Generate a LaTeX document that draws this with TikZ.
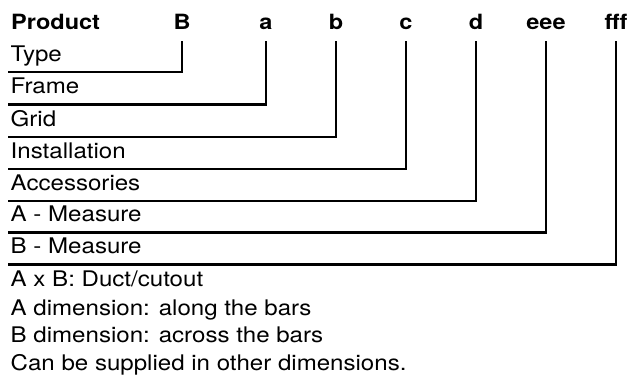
\documentclass[tikz,border=0pt]{standalone}
\usepackage{fontspec}
\setmainfont{TeX Gyre Heros}[FakeStretch=1.12]
\begin{document}
\begin{tikzpicture}[x=1pt,y=-1pt]
\tikzset{hd/.style={font=\fontsize{21}{24}\selectfont\bfseries, anchor=base, inner sep=0pt},
  row/.style={font=\fontsize{21.5}{24}\selectfont, anchor=south west, inner xsep=3pt, inner ysep=0pt, text depth=10.5pt},
  note/.style={font=\fontsize{21.5}{24}\selectfont, anchor=base west, inner sep=0pt},
  ln/.style={line width=2.6pt}};
\useasboundingbox (0,0) rectangle (628,380);
% code header
\node [hd, anchor=base west] (product) at (11,29.3) {Product};
\node [hd] (hB) at (182,29.3) {B};
\node [hd] (ha) at (266,29.3) {a};
\node [hd] (hb) at (336,29.3) {b};
\node [hd] (hc) at (406,29.3) {c};
\node [hd] (hd) at (476,29.3) {d};
\node [hd] (heee) at (546,29.3) {eee};
\node [hd] (hfff) at (616,29.3) {fff};
% rows
\node [row] (type) at (7.5,72) {Type};
\node [row] (frame) at (7.5,104.5) {Frame};
\node [row] (grid) at (7.5,136.8) {Grid};
\node [row] (install) at (7.5,168.8) {Installation};
\node [row] (access) at (7.5,200.8) {Accessories};
\node [row] (ameas) at (7.5,232.6) {A - Measure};
\node [row] (bmeas) at (7.5,264.2) {B - Measure};
% connectors
\draw [ln] ([yshift=-12pt]hB.base) |- (type.south west);
\draw [ln] ([yshift=-12pt]ha.base) |- (frame.south west);
\draw [ln] ([yshift=-12pt]hb.base) |- (grid.south west);
\draw [ln] ([yshift=-12pt]hc.base) |- (install.south west);
\draw [ln] ([yshift=-12pt]hd.base) |- (access.south west);
\draw [ln] ([yshift=-12pt]heee.base) |- (ameas.south west);
\draw [ln] ([yshift=-12pt]hfff.base) |- (bmeas.south west);
% notes
\node [note] (n1) at (10.5,286.8) {A x B: Duct/cutout};
\node [note] (n2) at (10.5,315) {A dimension: along the bars};
\node [note] (n3) at (10.5,342.8) {B dimension: across the bars};
\node [note] (n4) at (10.5,370.5) {Can be supplied in other dimensions.};
\end{tikzpicture}
\end{document}
